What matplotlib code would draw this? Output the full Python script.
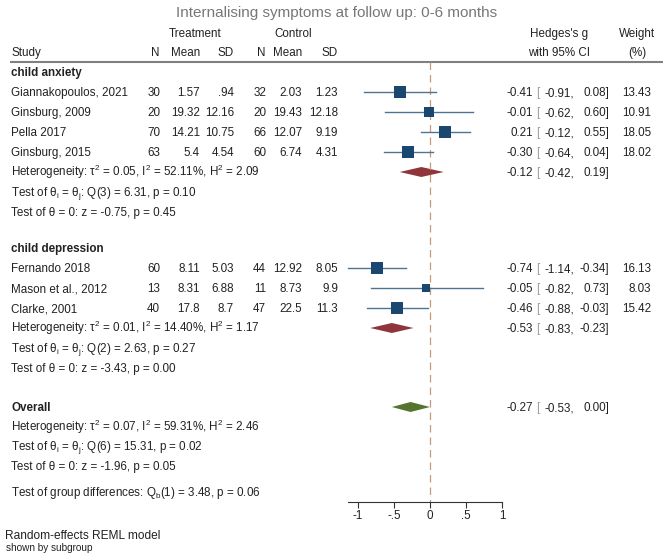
import matplotlib
matplotlib.use("Agg")
import matplotlib.pyplot as plt
from matplotlib.patches import Polygon

plt.rcParams['font.family'] = ['Liberation Sans', 'DejaVu Sans']
plt.rcParams['mathtext.default'] = 'regular'

# ---------------- data ----------------
studies = ["Giannakopoulos, 2021", "Ginsburg, 2009", "Pella 2017", "Ginsburg, 2015",
           "Fernando 2018", "Mason et al., 2012", "Clarke, 2001"]
group_of = [0, 0, 0, 0, 1, 1, 1]
group_names = ["child anxiety", "child depression"]
n_t = [30, 20, 70, 63, 60, 13, 40]
mean_t = [1.57, 19.32, 14.21, 5.4, 8.11, 8.31, 17.8]
sd_t = [0.94, 12.16, 10.75, 4.54, 5.03, 6.88, 8.7]
n_c = [32, 20, 66, 60, 44, 11, 47]
mean_c = [2.03, 19.43, 12.07, 6.74, 12.92, 8.73, 22.5]
sd_c = [1.23, 12.18, 9.19, 4.31, 8.05, 9.9, 11.3]
g = [-0.41, -0.01, 0.21, -0.30, -0.74, -0.05, -0.46]
lo = [-0.91, -0.62, -0.12, -0.64, -1.14, -0.82, -0.88]
hi = [0.08, 0.60, 0.55, 0.04, -0.34, 0.73, -0.03]
weight = [13.43, 10.91, 18.05, 18.02, 16.13, 8.03, 15.42]

sub_g = [-0.12, -0.53]
sub_lo = [-0.42, -0.83]
sub_hi = [0.19, -0.23]
sub_het = [(0.05, 52.11, 2.09), (0.01, 14.40, 1.17)]
sub_q = [(3, 6.31, 0.10), (2, 2.63, 0.27)]
sub_z = [(-0.75, 0.45), (-3.43, 0.00)]

ov_g, ov_lo, ov_hi = -0.27, -0.53, 0.00
ov_het = (0.07, 59.31, 2.46)
ov_q = (6, 15.31, 0.02)
ov_z = (-1.96, 0.05)
grp_diff = (1, 3.48, 0.06)

xticks = [-1, -0.5, 0, 0.5, 1]
xticklabels = ["-1", "-.5", "0", ".5", "1"]

# ---------------- layout ----------------
W, H = 663, 553
fig = plt.figure(figsize=(W / 100, H / 100), dpi=100)
tax = fig.add_axes([0, 0, 1, 1])
tax.set_xlim(0, W)
tax.set_ylim(H, 0)
tax.axis('off')

FS = 8.4
TC = '#222222'
NAVY = '#1a476f'
LINEC = '#4f7393'
MAROON = '#90353b'
GREEN = '#55752f'


def fmt(v):
    s = f"{v:g}"
    if s.startswith("0."):
        s = s[1:]
    return s


def txt(x, y, s, ha='left', **kw):
    kw.setdefault('fontsize', FS)
    kw.setdefault('color', TC)
    off = kw['fontsize'] * (100 / 72) * 0.36
    tax.text(x, y + off, s, ha=ha, va='baseline', **kw)


# title
txt(337, 12, "Internalising symptoms at follow up: 0-6 months", ha='center',
    fontsize=11, color='#777777')

# headers
txt(195, 33, "Treatment", ha='center')
txt(293, 33, "Control", ha='center')
txt(11, 52, "Study")
col_x = [160, 200, 234, 266, 302, 338]
for x, lab in zip(col_x, ["N", "Mean", "SD", "N", "Mean", "SD"]):
    txt(x, 52, lab, ha='right')
txt(559, 33, "Hedges's g", ha='center')
txt(559, 52, "with 95% CI", ha='center')
txt(637, 33, "Weight", ha='center')
txt(637, 52, "(%)", ha='center')
tax.plot([10, W], [61.5, 61.5], color='#808080', lw=1.5, solid_capstyle='butt')

# forest axes
X0 = 430.0
PPU = 72.0
left_px, right_px = 330, 520
AX_Y = 502
fax = fig.add_axes([left_px / W, (H - AX_Y) / H, (right_px - left_px) / W, AX_Y / H])
fax.set_xlim((left_px - X0) / PPU, (right_px - X0) / PPU)
fax.set_ylim(AX_Y, 0)
fax.patch.set_alpha(0)
for sp in ['top', 'right', 'left']:
    fax.spines[sp].set_visible(False)
fax.spines['bottom'].set_bounds(min(lo), 1)
fax.spines['bottom'].set_color('#333333')
fax.spines['bottom'].set_linewidth(0.8)
fax.set_yticks([])
fax.set_xticks(xticks)
fax.set_xticklabels(xticklabels, fontsize=FS, color=TC)
fax.tick_params(axis='x', direction='out', length=4, width=0.8, color='#333333', pad=1.5)

fax.plot([0, 0], [62, AX_Y], color='#c49a78', lw=0.9, ls=(0, (6, 4)))


def ci_text(y, gv, l, h, w=None):
    txt(533, y, f"{gv:.2f}", ha='right')
    txt(536, y, "[", color='#999999')
    txt(574, y, f"{l:.2f},", ha='right')
    txt(609, y, f"{h:.2f}]", ha='right')
    if w is not None:
        txt(651, y, f"{w:.2f}", ha='right')


def diamond(y, gv, l, h, color):
    fax.add_patch(Polygon([(l, y), (gv, y - 5), (h, y), (gv, y + 5)],
                          closed=True, color=color, lw=0))


group_rows = [
    dict(head=72, studies=[92, 112, 132, 152], diam=172, q=192, z=212),
    dict(head=248, studies=[268, 288, 308], diam=328, q=348, z=368),
]

for gi, rows in enumerate(group_rows):
    txt(11, rows['head'], group_names[gi], fontweight='bold')
    idx = [i for i in range(len(studies)) if group_of[i] == gi]
    for y, i in zip(rows['studies'], idx):
        txt(11, y, studies[i])
        vals = [str(n_t[i]), fmt(mean_t[i]), fmt(sd_t[i]), str(n_c[i]), fmt(mean_c[i]), fmt(sd_c[i])]
        for x, v in zip(col_x, vals):
            txt(x, y, v, ha='right')
        fax.plot([lo[i], hi[i]], [y, y], color=LINEC, lw=1.0, zorder=2)
        fax.plot([g[i]], [y], marker='s', color=NAVY, ms=2.2 * weight[i] ** 0.5,
                 mew=0, zorder=3)
        ci_text(y, g[i], lo[i], hi[i], weight[i])
    t2, i2, h2 = sub_het[gi]
    yd = rows['diam']
    txt(11, yd, f"Heterogeneity: τ$^2$ = {t2:.2f}, I$^2$ = {i2:.2f}%, H$^2$ = {h2:.2f}")
    diamond(yd, sub_g[gi], sub_lo[gi], sub_hi[gi], MAROON)
    ci_text(yd, sub_g[gi], sub_lo[gi], sub_hi[gi])
    df, q, p = sub_q[gi]
    txt(11, rows['q'], f"Test of θ$_i$ = θ$_j$: Q({df}) = {q:.2f}, p = {p:.2f}")
    z, pz = sub_z[gi]
    txt(11, rows['z'], f"Test of θ = 0: z = {z:.2f}, p = {pz:.2f}")

# overall
txt(11, 407, "Overall", fontweight='bold')
diamond(407, ov_g, ov_lo, ov_hi, GREEN)
ci_text(407, ov_g, ov_lo, ov_hi)
txt(11, 427, f"Heterogeneity: τ$^2$ = {ov_het[0]:.2f}, I$^2$ = {ov_het[1]:.2f}%, H$^2$ = {ov_het[2]:.2f}")
txt(11, 446, f"Test of θ$_i$ = θ$_j$: Q({ov_q[0]}) = {ov_q[1]:.2f}, p = {ov_q[2]:.2f}")
txt(11, 466, f"Test of θ = 0: z = {ov_z[0]:.2f}, p = {ov_z[1]:.2f}")
txt(11, 492, f"Test of group differences: Q$_b$({grp_diff[0]}) = {grp_diff[1]:.2f}, p = {grp_diff[2]:.2f}")

txt(5, 535, "Random-effects REML model", fontsize=8.6)
txt(6, 547, "shown by subgroup", fontsize=7.2)

fig.savefig("out.png", dpi=100, facecolor='white')
